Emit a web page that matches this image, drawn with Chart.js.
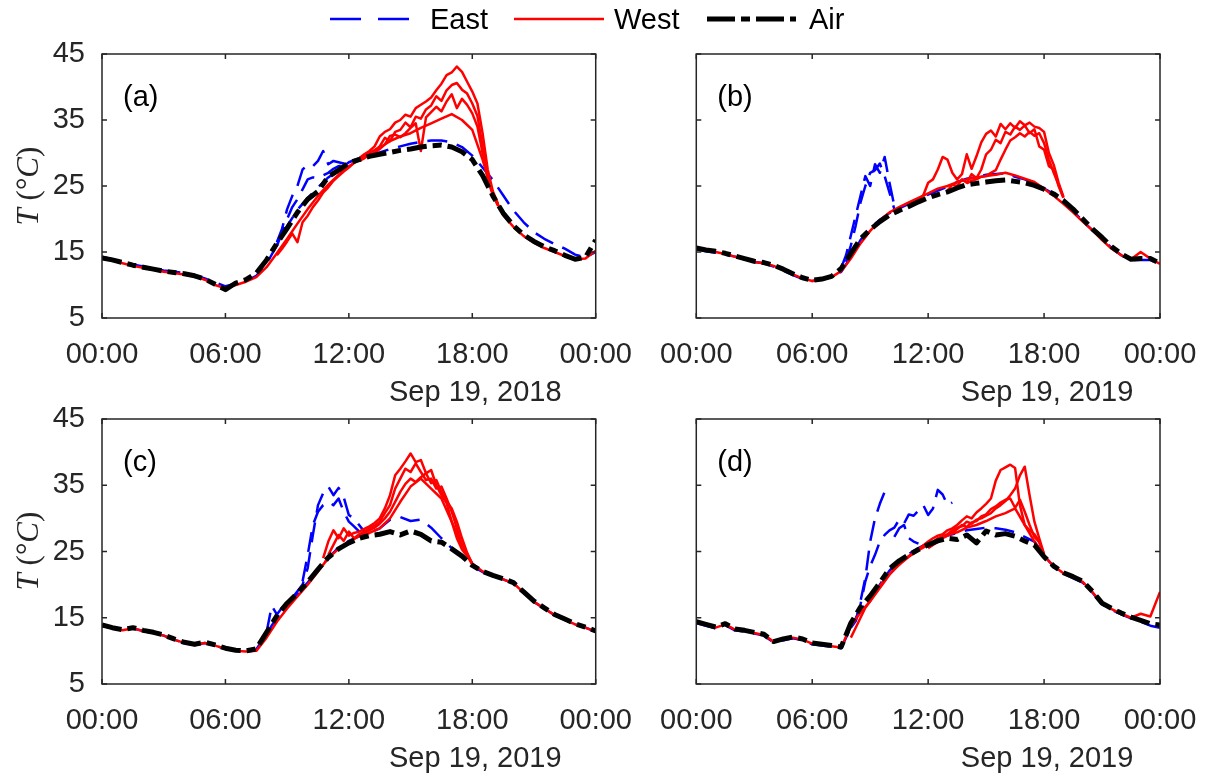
<!DOCTYPE html>
<html>
<head>
<meta charset="utf-8">
<title>East / West / Air temperature</title>
<script src="https://cdn.jsdelivr.net/npm/chart.js@4.4.0/dist/chart.umd.min.js"></script>
<style>
  html, body { margin: 0; padding: 0; background: #fff; }
  #page { position: relative; width: 1225px; height: 778px; overflow: hidden; }
  canvas { position: absolute; }
  #overlay { position: absolute; left: 0; top: 0; }
</style>
</head>
<body>
<div id="page">
  <canvas id="chartA" width="652" height="410" style="left:0;top:0"></canvas>
  <canvas id="chartB" width="585" height="410" style="left:640px;top:0"></canvas>
  <canvas id="chartC" width="652" height="413" style="left:0;top:365px"></canvas>
  <canvas id="chartD" width="585" height="413" style="left:640px;top:365px"></canvas>

  <svg id="overlay" width="1225" height="778">
    <!-- legend -->
    <line x1="330" y1="19" x2="409" y2="19" stroke="#0000ff" stroke-width="2.5" stroke-dasharray="31 17"/>
    <text x="430" y="19" font-family="Liberation Sans" font-size="29" dominant-baseline="central" fill="#000">East</text>
    <line x1="514" y1="19" x2="604" y2="19" stroke="#ff0000" stroke-width="2.5"/>
    <text x="614" y="19" font-family="Liberation Sans" font-size="29" dominant-baseline="central" fill="#000">West</text>
    <line x1="707" y1="19" x2="796" y2="19" stroke="#000" stroke-width="5" stroke-dasharray="28 6 9 6"/>
    <text x="809" y="19" font-family="Liberation Sans" font-size="29" dominant-baseline="central" fill="#000">Air</text>
    <!-- y axis titles -->
    <text transform="translate(27,186) rotate(-90)" text-anchor="middle" dominant-baseline="central"
          font-family="Liberation Serif" font-size="31" fill="#262626"><tspan font-style="italic">T</tspan> (°<tspan font-style="italic">C</tspan>)</text>
    <text transform="translate(27,551) rotate(-90)" text-anchor="middle" dominant-baseline="central"
          font-family="Liberation Serif" font-size="31" fill="#262626"><tspan font-style="italic">T</tspan> (°<tspan font-style="italic">C</tspan>)</text>
  </svg>
</div>

<script>
/* ---------- helpers ---------- */
const range = (from, to, step) => {
  const out = [];
  for (let h = from; h <= to + 1e-9; h += step) out.push(+h.toFixed(2));
  return out;
};

/* ---------- axes ---------- */
const dayHours = range(0, 24, 0.5);
const xTickLabels = ["00:00", "06:00", "12:00", "18:00", "00:00"];
const yTicks = [5, 15, 25, 35, 45];

/* ---------- panel (a) Sep 19, 2018 ---------- */
const airA = [14.1,13.8,13.4,13.0,12.7,12.4,12.1,11.9,11.7,11.4,10.9,10.1,9.3,10.3,10.8,11.8,13.8,16.3,18.6,21.0,23.0,24.2,26.4,27.4,28.5,29.0,29.5,29.8,30.1,30.4,30.6,30.9,31.1,31.2,30.9,30.2,29.0,26.6,23.5,20.9,19.0,17.6,16.6,15.8,15.2,14.5,13.9,14.2,16.8];
const eastA1 = [14.3,13.9,13.5,13.1,12.8,12.5,12.2,12.0,11.8,11.5,11.0,10.4,9.8,10.2,10.6,11.4,13.2,16.0,18.9,21.4,23.2,24.8,26.3,27.4,28.6,29.2,29.7,30.1,30.6,31.0,31.4,31.7,31.9,31.9,31.6,30.9,29.6,27.8,25.9,23.6,21.3,19.5,18.0,17.0,16.2,15.5,14.6,14.2,15.0];
const eastA2Hours = range(8.5, 12, 0.25);
const eastA2 = [16.5,18.5,21.5,23.5,25.0,27.5,28.2,28.0,28.8,30.3,28.3,28.8,28.6,28.4,28.6];
const eastA3Hours = range(8.5, 12, 0.25);
const eastA3 = [16.0,17.8,20.0,21.8,23.0,24.5,26.0,26.3,26.2,26.6,27.0,27.6,28.0,28.2,28.5];
const westA1 = [14.0,13.7,13.3,12.9,12.6,12.3,12.0,11.8,11.6,11.3,10.8,10.0,9.5,10.0,10.5,11.2,12.7,14.8,17.0,19.3,21.5,23.5,25.2,26.7,28.0,29.0,30.0,30.8,31.8,32.5,33.0,33.8,34.5,35.2,35.9,35.0,33.5,29.0,23.8,20.6,18.8,17.4,16.4,15.6,15.0,14.4,13.9,14.0,15.2];
const westA2Hours = range(8.5, 19.25, 0.25);
const westA2 = [14.5,15.5,16.6,17.8,16.5,19.5,20.5,21.8,22.8,24.0,24.8,25.8,26.5,27.2,27.8,28.5,
                29.2,29.8,30.3,31.0,32.5,33.2,33.6,34.6,35.0,35.8,35.5,36.8,37.3,37.8,38.4,39.5,40.5,41.8,42.2,43.1,42.3,40.8,39.3,37.5,33.0,27.5,24.2,22.3];
const westA3Hours = range(12.5, 19.25, 0.25);
const westA3 = [28.9,29.4,30.0,30.4,31.0,32.3,31.8,33.2,33.5,34.6,33.9,35.5,35.2,36.6,37.2,38.6,37.9,39.5,40.3,40.6,39.6,39.0,37.5,35.6,31.0,26.5,23.9,22.1];
const westA4Hours = range(12.5, 19.25, 0.25);
const westA4 = [28.8,29.2,29.7,30.0,30.6,31.3,32.6,32.8,32.4,33.0,33.8,34.5,30.3,35.4,36.2,37.0,36.3,37.8,38.9,36.8,38.2,37.3,36.0,34.0,30.0,26.0,23.6,22.0];

/* ---------- panel (b) Sep 19, 2019 ---------- */
const airB = [15.6,15.3,15.1,14.8,14.4,14.0,13.6,13.4,13.0,12.4,11.7,11.1,10.7,10.9,11.3,12.5,14.8,17.0,18.4,19.6,20.6,21.3,21.9,22.6,23.2,23.7,24.1,24.7,25.2,25.4,25.6,25.8,25.9,25.7,25.5,25.1,24.5,23.8,22.8,21.5,20.0,18.5,17.2,15.8,14.7,13.9,14.0,14.0,13.3];
const eastB1 = [15.4,15.1,14.9,14.6,14.3,13.9,13.5,13.3,12.8,12.2,11.5,10.9,10.6,10.8,11.2,12.0,14.2,16.8,18.6,19.9,20.9,21.6,22.3,23.0,23.7,24.3,24.9,25.6,26.1,26.4,26.7,26.8,26.9,26.4,26.0,25.4,24.6,23.8,22.6,21.2,19.7,18.3,17.0,15.6,14.5,13.8,13.8,13.8,13.1];
const eastB2Hours = range(7.5, 10.25, 0.25);
const eastB2 = [12.6,14.5,17.5,20.5,23.5,26.5,25.0,28.3,27.0,29.4,25.5,22.0];
const eastB3Hours = range(7.75, 10.5, 0.25);
const eastB3 = [13.5,16.0,19.0,22.5,25.0,27.0,27.4,28.4,26.5,24.0,21.5,21.0];
const westB1 = [15.5,15.2,15.0,14.7,14.3,13.9,13.5,13.3,12.9,12.3,11.6,11.0,10.6,10.9,11.2,12.1,14.0,16.3,18.2,19.8,21.0,21.8,22.5,23.2,23.9,24.6,25.0,25.6,26.0,26.3,26.5,26.7,27.0,26.6,26.1,25.6,24.6,23.5,22.3,21.0,19.6,18.3,16.8,15.5,14.5,13.9,15.0,14.0,13.2];
const westB2Hours = range(11.5, 19, 0.25);
const westB2 = [23.0,23.6,25.5,26.0,27.5,29.4,29.0,27.0,26.0,26.8,29.8,27.6,29.5,31.6,32.9,33.4,32.5,34.4,33.6,34.5,33.8,34.8,34.2,34.6,34.0,33.8,33.2,30.0,28.2,25.5,23.4];
const westB3Hours = range(13, 19, 0.25);
const westB3 = [24.3,25.2,25.0,26.0,25.5,26.8,26.2,27.5,29.8,30.5,32.0,31.5,33.2,32.8,34.0,33.5,34.2,33.0,33.6,31.0,30.5,28.0,27.5,25.0,23.2];
const westB4Hours = range(14, 19, 0.25);
const westB4 = [25.4,25.8,26.0,26.4,26.5,27.0,27.4,29.0,30.5,31.9,32.4,33.0,32.5,33.2,32.6,33.0,31.5,29.0,27.0,25.2,23.3];

/* ---------- panel (c) Sep 19, 2019 ---------- */
const airC = [13.9,13.5,13.2,13.5,13.1,12.8,12.4,11.8,11.3,11.0,11.3,10.9,10.4,10.1,10.0,10.3,12.8,15.3,17.2,18.7,20.4,22.3,24.1,25.4,26.3,27.0,27.4,27.6,28.0,27.5,28.1,27.6,26.6,26.4,25.4,24.3,22.9,22.0,21.4,20.9,20.3,18.9,17.5,16.5,15.5,14.8,14.1,13.6,13.0];
const eastC1 = [13.8,13.4,13.1,13.4,13.0,12.7,12.3,11.7,11.2,10.9,11.2,10.8,10.3,10.0,9.9,10.2,12.6,15.0,17.0,18.6,20.3,22.2,24.0,25.6,26.6,27.3,27.8,28.5,29.8,30.2,29.6,29.8,28.6,27.0,25.5,24.2,22.8,21.9,21.3,20.8,20.2,18.8,17.4,16.4,15.4,14.7,14.0,13.5,12.9];
const eastC2Hours = range(8, 12.75, 0.25);
const eastC2 = [12.8,16.8,15.5,16.5,17.3,18.0,19.0,20.0,22.5,27.5,32.0,33.8,34.8,33.5,34.6,33.2,30.5,30.0,29.0,28.0];
const eastC3Hours = range(9.75, 12.75, 0.25);
const eastC3 = [20.5,24.5,29.0,31.0,32.0,32.5,32.0,33.0,31.0,29.5,28.8,28.0,27.6];
const westC1 = [13.8,13.4,13.1,13.4,13.0,12.7,12.3,11.7,11.2,10.9,11.2,10.8,10.3,10.0,9.9,10.0,12.0,14.4,16.4,18.2,20.0,22.0,24.0,25.4,26.5,27.3,27.8,28.5,30.0,32.5,34.8,36.0,34.5,33.0,29.5,26.0,23.2,22.0,21.3,20.8,20.2,18.8,17.4,16.4,15.4,14.7,14.0,13.5,12.9];
const westC2Hours = range(10.75, 18, 0.25);
const westC2 = [24.0,26.5,28.2,27.0,28.5,27.4,27.8,28.0,28.4,28.8,29.3,30.0,31.5,33.5,36.5,37.5,38.6,39.8,38.5,38.8,36.8,37.3,35.0,33.5,32.3,29.5,27.0,25.3,24.3,23.2];
const westC3Hours = range(11, 18, 0.25);
const westC3 = [24.5,26.0,27.5,26.6,28.0,27.0,27.6,28.0,28.5,28.9,29.5,30.8,32.0,34.5,36.0,37.5,37.0,38.3,37.0,35.8,36.0,34.5,34.8,33.0,31.0,28.5,26.0,24.5,23.0];
const westC4Hours = range(12.5, 18, 0.25);
const westC4 = [27.3,27.8,28.2,28.6,29.2,30.0,31.0,32.5,34.0,35.2,36.0,35.5,36.2,36.8,35.3,35.8,34.0,32.6,31.5,29.5,27.0,24.8,23.1];

/* ---------- panel (d) Sep 19, 2019 ---------- */
const airD = [14.4,14.0,13.6,14.1,13.3,13.1,12.8,12.5,11.4,11.8,12.1,11.8,11.2,11.0,10.8,10.6,14.2,16.6,18.3,20.3,22.4,23.6,24.5,25.3,26.0,26.6,27.0,26.8,27.5,26.3,28.1,27.5,27.7,27.3,26.6,26.0,24.2,22.8,21.8,21.2,20.5,19.0,17.2,16.4,15.7,15.1,14.6,14.1,13.9];
const eastD1 = [14.2,13.8,13.4,13.9,13.1,12.9,12.6,12.3,11.3,11.6,11.9,11.6,11.0,10.8,10.6,10.4,13.6,16.2,18.0,20.0,22.1,23.6,24.6,25.5,26.3,26.9,27.4,27.8,28.2,28.4,28.6,28.5,28.3,27.9,27.2,26.5,24.4,22.7,21.7,21.0,20.3,18.8,17.0,16.2,15.5,14.9,14.4,13.8,13.5];
const eastD2Hours = range(8, 10, 0.25);
const eastD2 = [13.5,14.5,17.5,21.0,26.5,30.0,32.2,34.0,35.0];
const eastD3Hours = range(8.25, 13.25, 0.25);
const eastD3 = [14.5,17.0,20.5,22.8,24.5,26.5,27.5,28.2,28.6,29.8,29.2,30.6,30.4,31.2,32.0,30.5,31.5,34.3,33.6,32.0,32.4];
const eastD4Hours = range(10.25, 11.5, 0.25);
const eastD4 = [27.2,28.5,29.0,27.0,26.5,26.2];
const westD1 = [14.3,13.9,13.5,14.0,13.2,13.0,12.7,12.4,11.4,11.7,12.0,11.7,11.1,10.9,10.7,10.5,13.8,15.8,17.5,19.5,21.5,23.0,24.2,25.2,26.0,26.8,27.5,27.9,28.6,29.0,29.6,30.3,30.8,31.5,29.0,26.5,24.3,22.8,21.7,21.1,20.4,18.9,17.1,16.3,15.6,15.0,15.6,15.2,18.9];
const westD2Hours = range(8, 18, 0.25);
const westD2 = [12.0,13.5,15.0,16.5,17.5,18.8,19.8,20.8,21.6,22.4,23.0,23.8,24.3,24.8,25.3,25.9,
                26.5,27.0,27.4,27.6,28.2,28.5,29.0,29.7,30.3,30.0,30.9,31.5,32.2,33.0,35.7,37.3,37.7,38.1,37.6,32.0,29.0,28.2,27.6,26.5,24.5];
const westD3Hours = range(12, 18, 0.25);
const westD3 = [25.8,26.4,27.0,27.3,27.6,28.2,28.6,28.8,29.5,29.2,29.8,30.0,30.4,30.8,31.5,32.0,32.6,33.5,34.5,36.5,37.8,33.5,29.5,27.0,24.6];
const westD4Hours = range(12, 18, 0.25);
const westD4 = [25.5,26.0,26.5,27.0,27.4,27.8,28.4,29.0,28.7,29.4,29.6,30.3,30.6,31.4,31.8,32.4,32.8,33.0,31.6,32.8,31.0,29.0,27.2,26.4,24.5];

/* ---------- styles ---------- */
const AXIS_COLOR = "#262626";
const FONT = "Liberation Sans";
const FONT_SIZE = 29;

function pts(hours, values) {
  return hours.map((h, i) => ({ x: h, y: values[i] }));
}

function eastLine(hours, values) {
  return { data: pts(hours, values), borderColor: "#0000ff", borderWidth: 2.5,
           borderDash: [20, 10], borderCapStyle: "butt", borderJoinStyle: "round", order: 2 };
}
function westLine(hours, values) {
  return { data: pts(hours, values), borderColor: "#ff0000", borderWidth: 2.5,
           borderJoinStyle: "round", order: 1 };
}
function airLine(hours, values) {
  return { data: pts(hours, values), borderColor: "#000000", borderWidth: 5,
           borderDash: [20, 6, 9, 6], borderCapStyle: "butt", borderJoinStyle: "round", order: 0 };
}

/* box, inward ticks, panel letter and date */
const framePlugin = {
  id: "frame",
  afterDraw(chart, args, opts) {
    const { ctx, chartArea: a, scales: { x, y } } = chart;
    ctx.save();
    ctx.strokeStyle = AXIS_COLOR;
    ctx.lineWidth = 1.5;
    ctx.strokeRect(a.left, a.top, a.right - a.left, a.bottom - a.top);
    ctx.beginPath();
    x.ticks.forEach(t => {
      const px = x.getPixelForValue(t.value);
      ctx.moveTo(px, a.bottom); ctx.lineTo(px, a.bottom - 5);
      ctx.moveTo(px, a.top); ctx.lineTo(px, a.top + 5);
    });
    y.ticks.forEach(t => {
      const py = y.getPixelForValue(t.value);
      ctx.moveTo(a.left, py); ctx.lineTo(a.left + 5, py);
      ctx.moveTo(a.right, py); ctx.lineTo(a.right - 5, py);
    });
    ctx.stroke();

    ctx.font = `${FONT_SIZE}px "${FONT}"`;
    ctx.textBaseline = "middle";
    ctx.fillStyle = "#000";
    ctx.textAlign = "left";
    ctx.fillText(opts.letter, a.left + 21, a.top + 44);

    ctx.fillStyle = AXIS_COLOR;
    ctx.textAlign = "center";
    ctx.fillText(opts.date, x.getPixelForValue(18) + 3, a.bottom + 75);
    ctx.restore();
  }
};

function makePanel(id, p) {
  return new Chart(document.getElementById(id), {
    type: "line",
    data: {
      datasets: [
        airLine(dayHours, p.air),
        ...p.west.map(w => westLine(w[0], w[1])),
        ...p.east.map(e => eastLine(e[0], e[1]))
      ]
    },
    options: {
      responsive: false,
      animation: false,
      layout: { padding: { top: 54, right: p.padRight, left: 0, bottom: 0 } },
      elements: { point: { radius: 0 }, line: { tension: 0 } },
      plugins: {
        legend: { display: false },
        tooltip: { enabled: false },
        frame: { letter: p.letter, date: p.date }
      },
      scales: {
        x: {
          type: "linear", min: 0, max: 24,
          grid: { display: false, drawTicks: false },
          border: { display: false },
          ticks: {
            stepSize: 6, padding: 20, autoSkip: false, maxRotation: 0,
            color: AXIS_COLOR, font: { family: FONT, size: FONT_SIZE },
            callback: v => xTickLabels[Math.round(v / 6)]
          },
          afterFit: s => { s.height = p.xHeight; }
        },
        y: {
          type: "linear", min: yTicks[0], max: yTicks[yTicks.length - 1],
          grid: { display: false, drawTicks: false },
          border: { display: false },
          ticks: {
            display: p.showY, stepSize: 10, padding: 17,
            color: AXIS_COLOR, font: { family: FONT, size: FONT_SIZE }
          },
          afterFit: s => { s.width = p.yWidth; }
        }
      }
    },
    plugins: [framePlugin]
  });
}

makePanel("chartA", {
  letter: "(a)", date: "Sep 19, 2018", showY: true, yWidth: 102, padRight: 55, xHeight: 92,
  air: airA,
  west: [[dayHours, westA1], [westA2Hours, westA2], [westA3Hours, westA3], [westA4Hours, westA4]],
  east: [[dayHours, eastA1], [eastA2Hours, eastA2], [eastA3Hours, eastA3]]
});
makePanel("chartB", {
  letter: "(b)", date: "Sep 19, 2019", showY: false, yWidth: 42, padRight: 65, xHeight: 92,
  air: airB,
  west: [[dayHours, westB1], [westB2Hours, westB2], [westB3Hours, westB3], [westB4Hours, westB4]],
  east: [[dayHours, eastB1], [eastB2Hours, eastB2], [eastB3Hours, eastB3]]
});
makePanel("chartC", {
  letter: "(c)", date: "Sep 19, 2019", showY: true, yWidth: 102, padRight: 55, xHeight: 94,
  air: airC,
  west: [[dayHours, westC1], [westC2Hours, westC2], [westC3Hours, westC3], [westC4Hours, westC4]],
  east: [[dayHours, eastC1], [eastC2Hours, eastC2], [eastC3Hours, eastC3]]
});
makePanel("chartD", {
  letter: "(d)", date: "Sep 19, 2019", showY: false, yWidth: 42, padRight: 65, xHeight: 94,
  air: airD,
  west: [[dayHours, westD1], [westD2Hours, westD2], [westD3Hours, westD3], [westD4Hours, westD4]],
  east: [[dayHours, eastD1], [eastD2Hours, eastD2], [eastD3Hours, eastD3], [eastD4Hours, eastD4]]
});
</script>
</body>
</html>
